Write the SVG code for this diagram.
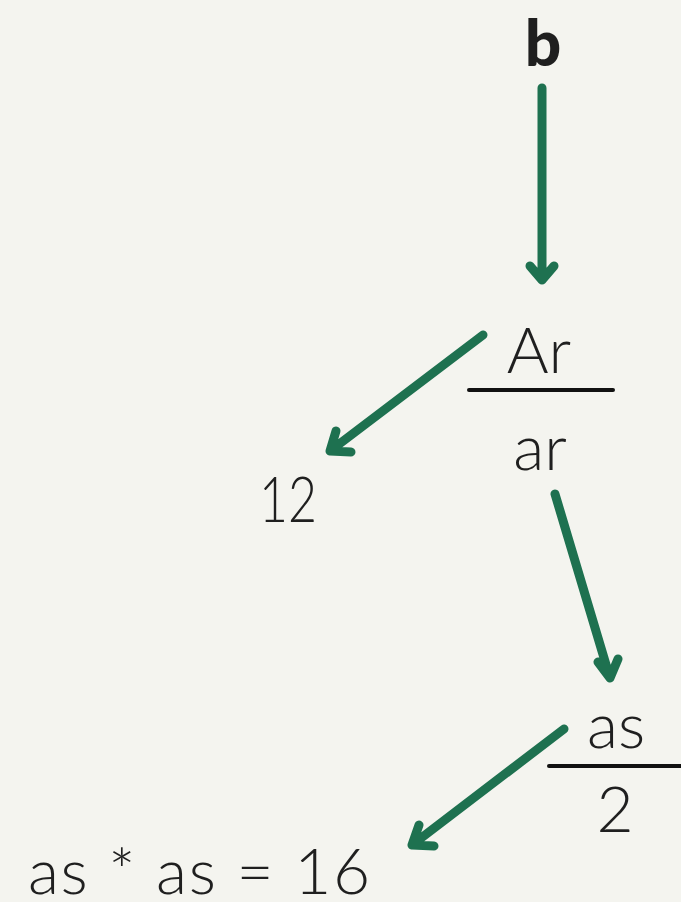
<svg xmlns="http://www.w3.org/2000/svg" width="681" height="902" viewBox="0 0 681 902">
<style>
.t{font-family:"Lato","Liberation Sans",sans-serif;font-size:64px;font-weight:300;fill:#1f1f1f;}
.b{font-weight:900;}
.bar{stroke:#111;stroke-width:4;stroke-linecap:round;}
.c{stroke:#1e7150;stroke-width:9;stroke-linecap:round;stroke-linejoin:round;fill:none;}
</style>
<rect width="681" height="902" fill="#f4f4ef"/>
<g id="node-b"><text class="t b" x="543" y="66" text-anchor="middle" font-size="62">b</text></g>
<g id="node-ar-frac">
<text class="t" x="539" y="373" text-anchor="middle">Ar</text>
<line class="bar" x1="469" y1="390" x2="613" y2="390"/>
<text class="t" x="540" y="470" text-anchor="middle">ar</text>
</g>
<g id="node-12"><text class="t" x="288" y="522" text-anchor="middle" textLength="58" lengthAdjust="spacingAndGlyphs">12</text></g>
<g id="node-as-frac">
<text class="t" x="616" y="748" text-anchor="middle">as</text>
<line class="bar" x1="549" y1="766" x2="683" y2="766"/>
<text class="t" x="615" y="832" text-anchor="middle">2</text>
</g>
<g id="node-eq"><text class="t" x="28" y="894" textLength="342" lengthAdjust="spacing">as * as = 16</text></g>
<g id="connectors">
<path class="c" d="M542,88 L542,280 M530,266 L542,280 L554,266"/>
<path class="c" d="M483,335 L330,451 M336,431 L330,451 L351,452"/>
<path class="c" d="M555,494 L610,678 M598,662 L610,678 L618,659"/>
<path class="c" d="M564,729 L412,845 M419,825 L412,845 L434,846"/>
</g>
</svg>
